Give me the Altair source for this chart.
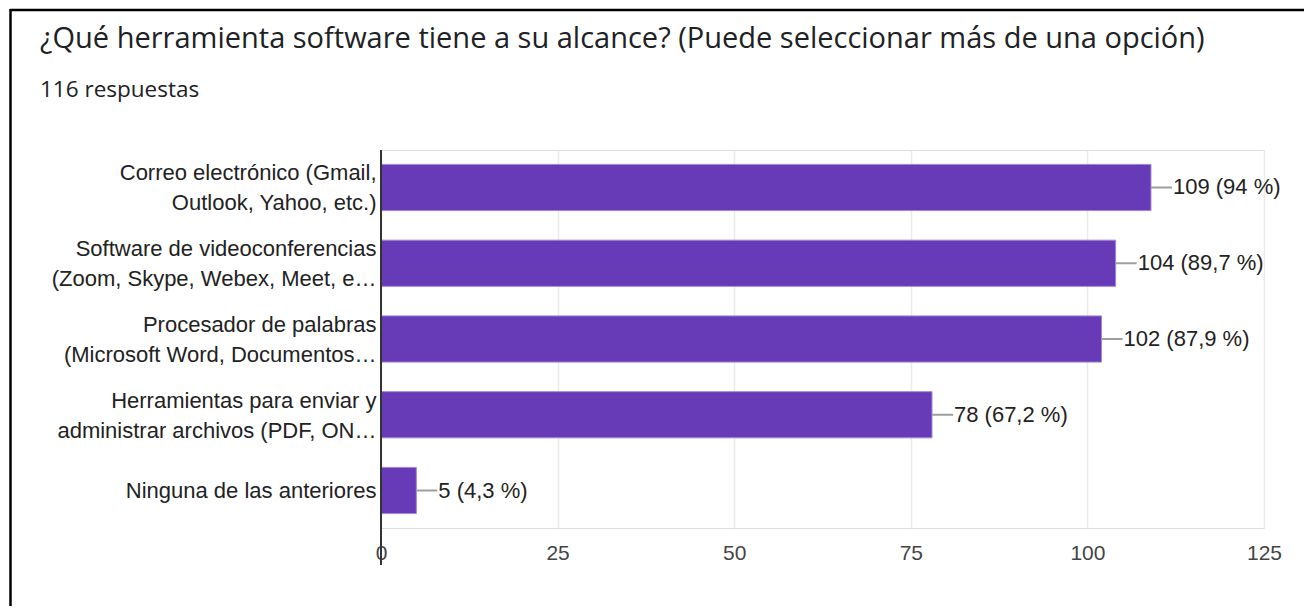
import altair as alt
import pandas as pd

categories = [
    "Correo electrónico (Gmail,|Outlook, Yahoo, etc.)",
    "Software de videoconferencias|(Zoom, Skype, Webex, Meet, e…",
    "Procesador de palabras|(Microsoft Word, Documentos…",
    "Herramientas para enviar y|administrar archivos (PDF, ON…",
    "Ninguna de las anteriores",
]
counts = [109, 104, 102, 78, 5]
value_labels = ["109 (94 %)", "104 (89,7 %)", "102 (87,9 %)", "78 (67,2 %)", "5 (4,3 %)"]
x_ticks = [0, 25, 50, 75, 100, 125]

title_text = "¿Qué herramienta software tiene a su alcance? (Puede seleccionar más de una opción)"
subtitle_text = "116 respuestas"

df = pd.DataFrame({"cat": categories, "n": counts, "lab": value_labels})

W, H = 883, 378
PURPLE = "#673ab7"

x_enc = alt.X(
    "n:Q",
    scale=alt.Scale(domain=[0, 125], nice=False),
    axis=alt.Axis(
        values=x_ticks, title=None, domain=False, ticks=False, labelFlush=False,
        labelFont="Liberation Sans", labelFontSize=21, labelColor="#444444",
        labelPadding=14, grid=True, gridColor="#ebebeb", gridWidth=1.5,
    ),
)
y_enc = alt.Y(
    "cat:N",
    sort=categories,
    scale=alt.Scale(paddingInner=0.39, paddingOuter=0.19),
    axis=alt.Axis(
        title=None, domain=False, ticks=False,
        labelFont="Liberation Sans", labelFontSize=22, labelColor="#222222",
        labelPadding=5, labelLimit=400, labelLineHeight=30,
        labelExpr="split(datum.value, '|')",
        labelOffset={"condition": {"test": "indexof(datum.value, '|') >= 0", "value": -14}, "value": 0},
    ),
)

base = alt.Chart(df)

bars = base.mark_bar(color=PURPLE, stroke="#9f87d3", strokeWidth=1).encode(x=x_enc, y=y_enc)

leaders = base.mark_rule(color="#9e9e9e", strokeWidth=2, x2Offset=21).encode(
    x="n:Q", x2="n:Q", y=alt.Y("cat:N", sort=categories)
)

texts = base.mark_text(
    align="left", baseline="middle", dx=22, font="Liberation Sans",
    fontSize=22, color="#222222",
).encode(x="n:Q", y=alt.Y("cat:N", sort=categories), text="lab:N")

zero_df = pd.DataFrame({"z": [0]})
zero_rule = alt.Chart(zero_df).mark_rule(color="#333333", strokeWidth=2).encode(
    x="z:Q", y=alt.value(0), y2=alt.value(H + 37)
)

head_df = pd.DataFrame({"t": [title_text], "s": [subtitle_text]})
title_mark = alt.Chart(head_df).mark_text(
    align="left", baseline="alphabetic", font="Open Sans", fontSize=29, color="#202124"
).encode(x=alt.value(-341), y=alt.value(-102), text="t:N")
subtitle_mark = alt.Chart(head_df).mark_text(
    align="left", baseline="alphabetic", font="Open Sans", fontSize=22.5, color="#202124"
).encode(x=alt.value(-341), y=alt.value(-53), text="s:N")

frame_df = pd.DataFrame({"f": [0]})
top_border = alt.Chart(frame_df).mark_rule(color="#000000", strokeWidth=2.5).encode(
    x=alt.value(-371), x2=alt.value(931), y=alt.value(-140)
)
left_border = alt.Chart(frame_df).mark_rule(color="#000000", strokeWidth=2.5).encode(
    x=alt.value(-370.5), y=alt.value(-141), y2=alt.value(464)
)

chart = alt.layer(
    bars, leaders, texts, zero_rule, title_mark, subtitle_mark, top_border, left_border
).properties(
    width=W,
    height=H,
    autosize=alt.AutoSizeParams(type="none"),
    padding={"left": 373, "top": 142, "right": 40, "bottom": 78},
).configure_view(stroke="#ebebeb", strokeWidth=1.5).configure(background="white")

chart.save("out.html", embed_options={"renderer": "svg", "actions": False})
